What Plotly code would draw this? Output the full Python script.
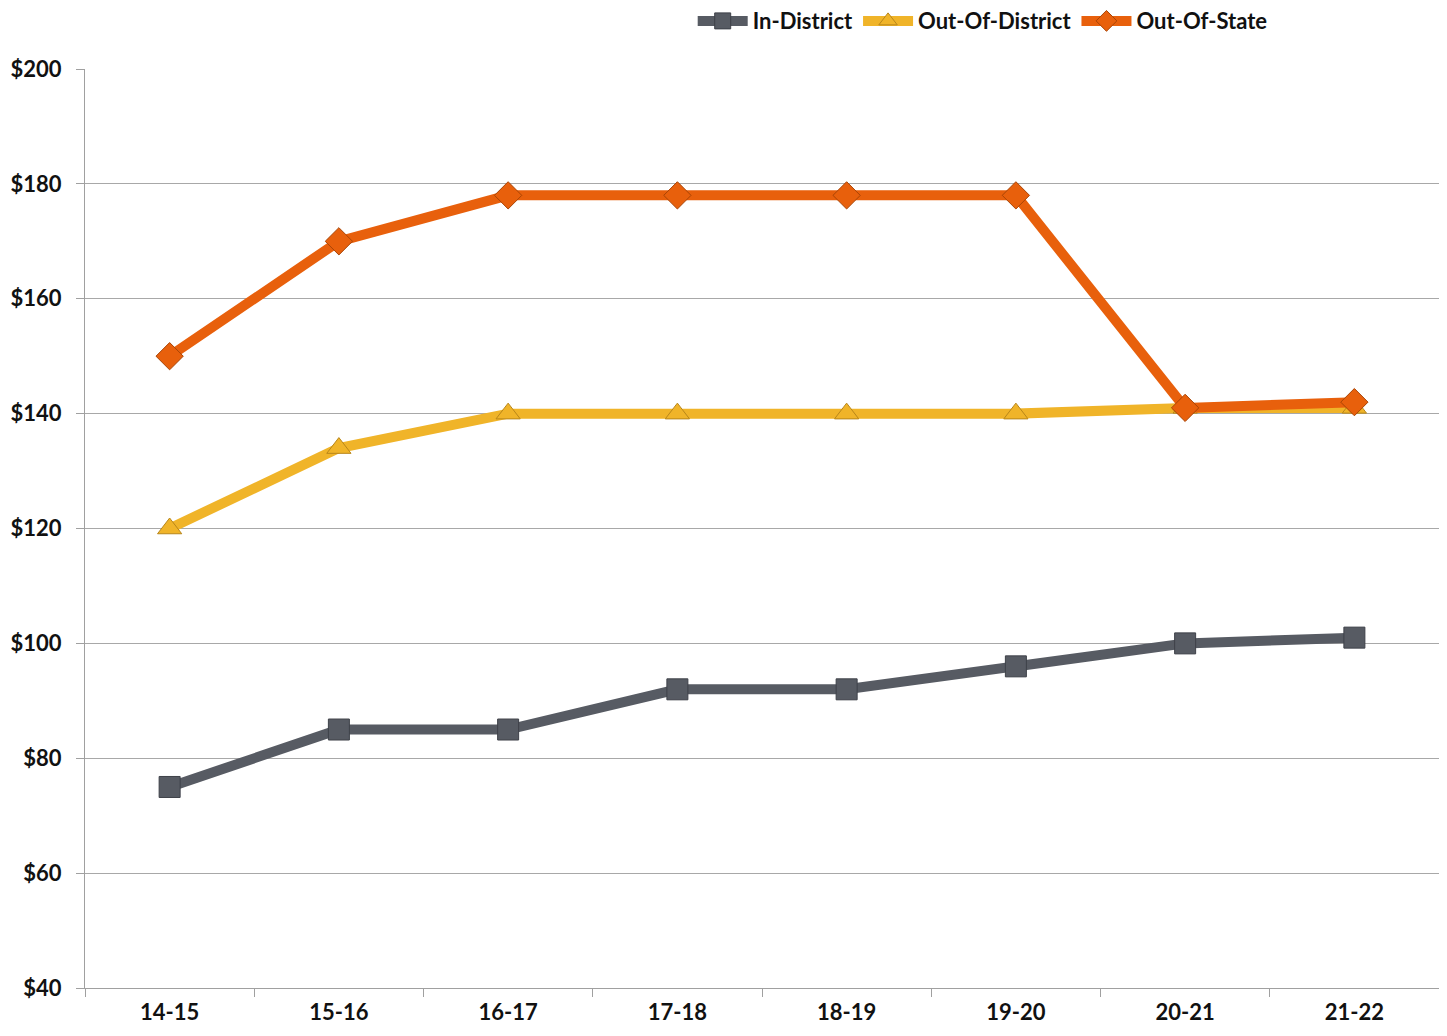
import plotly.graph_objects as go

years = ["14-15", "15-16", "16-17", "17-18", "18-19", "19-20", "20-21", "21-22"]
in_district = [75, 85, 85, 92, 92, 96, 100, 101]
out_of_district = [120, 134, 140, 140, 140, 140, 141, 141]
out_of_state = [150, 170, 178, 178, 178, 178, 141, 142]

series = [
    ("In-District", in_district, "#575B63", "square", "#3E4148"),
    ("Out-Of-District", out_of_district, "#F0B429", "triangle-up", "#B8861A"),
    ("Out-Of-State", out_of_state, "#E8600C", "diamond", "#A84406"),
]

fig = go.Figure()
for name, vals, color, sym, edge in series:
    fig.add_trace(go.Scatter(
        x=years, y=vals, name=name, mode="lines+markers",
        line=dict(color=color, width=10),
        marker=dict(symbol=sym, size=21, color=color, line=dict(color=edge, width=1)),
    ))

font = "Lato, 'Open Sans', sans-serif"
fig.update_layout(
    width=1431, height=1020,
    margin=dict(l=77, r=0, t=61, b=40, autoexpand=False),
    plot_bgcolor="white", paper_bgcolor="white",
    font=dict(family=font, size=22, color="#111111"),
    showlegend=True,
    legend=dict(orientation="h", x=0.663, xanchor="center", y=1.075, yanchor="top",
                font=dict(family=font, size=22, color="#111111", weight="bold"),
                itemwidth=50, traceorder="normal", tracegroupgap=0,
                borderwidth=0, bgcolor="rgba(0,0,0,0)"),
    xaxis=dict(
        type="category", showgrid=False, showline=True, linecolor="#A0A0A0", linewidth=1,
        ticks="outside", tickson="boundaries", ticklen=8, tickcolor="#A0A0A0",
        tickfont=dict(family=font, size=22, color="#111111", weight="bold"),
        ticklabelstandoff=5,
        range=[-0.5, 7.5], automargin=False,
    ),
    yaxis=dict(
        range=[40, 200], dtick=20, tickprefix="$", showgrid=True, gridcolor="#A8A8A8", gridwidth=1,
        showline=True, linecolor="#A0A0A0", linewidth=1, zeroline=False,
        ticks="outside", ticklen=8, tickcolor="#A0A0A0",
        tickfont=dict(family=font, size=22, color="#111111", weight="bold"),
        ticklabelstandoff=10,
        automargin=False,
    ),
)

fig.write_html("out.html")
